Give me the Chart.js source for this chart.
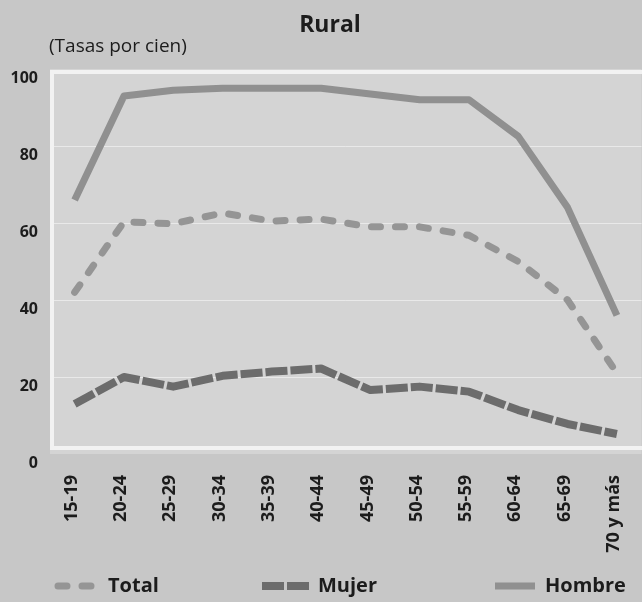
<!DOCTYPE html>
<html><head><meta charset="utf-8">
<script src="https://cdn.jsdelivr.net/npm/chart.js@4/dist/chart.umd.min.js"></script>
<style>
html,body{margin:0;padding:0;overflow:hidden;background:#c6c6c6;width:642px;height:602px}
canvas{display:block}
</style></head>
<body><canvas id="c" width="660" height="602"></canvas>
<script>
const chartTitle = 'Rural';
const chartSubtitle = '(Tasas por cien)';
const categories = ['15-19','20-24','25-29','30-34','35-39','40-44','45-49','50-54','55-59','60-64','65-69','70 y más'];
const seriesNames = ['Total','Mujer','Hombre'];
const totalValues  = [42, 60.3, 59.8, 62.6, 60.5, 61, 59, 59, 56.8, 50, 40, 21];
const mujerValues  = [13, 20, 17.5, 20.3, 21.4, 22.2, 16.6, 17.5, 16.2, 11.4, 7.8, 5.2];
const hombreValues = [66, 93, 94.5, 95, 95, 95, 93.5, 92, 92, 82.5, 64, 36];
const yMin = 0, yMax = 100, yStep = 20;

const FONT = '"Open Sans", Lato, sans-serif';
const TXT = '#1c1c1c';
const COL_TOTAL = '#959595';
const COL_MUJER = '#6c6c6c';
const COL_HOMBRE = '#909090';

const decor = {
  id: 'decor',
  beforeDraw(chart) {
    const {ctx, chartArea: a} = chart;
    ctx.save();
    ctx.fillStyle = '#c7c7c7';
    ctx.fillRect(0, 0, chart.width, chart.height);
    ctx.fillStyle = '#d4d4d4';
    ctx.fillRect(a.left, a.top, a.right - a.left, a.bottom - a.top);
    ctx.restore();
  },
  beforeDatasetsDraw(chart) {
    const {ctx, chartArea: a} = chart;
    ctx.save();
    ctx.strokeStyle = '#f2f2f2';
    ctx.lineWidth = 4;
    ctx.strokeRect(a.left + 2, a.top + 3, a.right - a.left + 20, a.bottom - a.top - 9);
    ctx.restore();
  },
  afterDraw(chart) {
    const {ctx} = chart;
    ctx.save();
    ctx.fillStyle = TXT;
    ctx.textBaseline = 'middle';
    ctx.textAlign = 'center';
    ctx.font = 'bold 23px ' + FONT;
    ctx.fillText(chartTitle, 330, 25);
    ctx.textAlign = 'left';
    ctx.font = '19px ' + FONT;
    ctx.fillText(chartSubtitle, 49, 47);
    // legend
    const ly = 586;
    const samples = [[58, 34], [262, 48], [495, 40]];
    const textX = [108, 318, 545];
    chart.data.datasets.forEach((ds, i) => {
      const [x, len] = samples[i];
      ctx.save();
      ctx.strokeStyle = ds.borderColor;
      ctx.lineWidth = ds.borderWidth;
      ctx.lineCap = ds.borderCapStyle || 'butt';
      ctx.setLineDash(ds.borderDash || []);
      ctx.beginPath();
      ctx.moveTo(x, ly);
      ctx.lineTo(x + len, ly);
      ctx.stroke();
      ctx.restore();
      ctx.font = 'bold 20px ' + FONT;
      ctx.fillStyle = TXT;
      ctx.fillText(ds.label, textX[i], ly);
    });
    ctx.restore();
  }
};

new Chart(document.getElementById('c'), {
  type: 'line',
  data: {
    labels: categories,
    datasets: [
      { label: seriesNames[0], data: totalValues, borderColor: COL_TOTAL, borderWidth: 7,
        borderDash: [9, 15], borderCapStyle: 'round', borderJoinStyle: 'round', order: 2 },
      { label: seriesNames[1], data: mujerValues, borderColor: COL_MUJER, borderWidth: 8,
        borderDash: [22, 3], borderCapStyle: 'butt', borderJoinStyle: 'round', order: 1 },
      { label: seriesNames[2], data: hombreValues, borderColor: COL_HOMBRE, borderWidth: 7,
        borderCapStyle: 'butt', borderJoinStyle: 'round', order: 3 }
    ]
  },
  options: {
    responsive: false,
    animation: false,
    events: [],
    layout: { padding: { top: 69, right: 12, left: 0, bottom: 0 } },
    elements: { point: { radius: 0 }, line: { tension: 0, fill: false } },
    plugins: { legend: { display: false }, title: { display: false }, tooltip: { enabled: false } },
    scales: {
      x: {
        offset: true,
        grid: { display: false, drawTicks: false },
        border: { display: false },
        ticks: { autoSkip: false, maxRotation: 90, minRotation: 90, padding: 21, labelOffset: -3,
                 color: TXT, font: { family: FONT, weight: 'bold', size: 18 } },
        afterFit(s) { s.height = 148; }
      },
      y: {
        min: yMin, max: yMax,
        grid: { drawTicks: false, lineWidth: 1,
                color: c => (c.tick && (c.tick.value === yMin || c.tick.value === yMax)) ? 'rgba(0,0,0,0)' : 'rgba(240,240,240,0.75)' },
        border: { display: false },
        ticks: { stepSize: yStep, padding: 12, labelOffset: 9, color: TXT,
                 font: { family: FONT, weight: 'bold', size: 16 } },
        afterFit(s) { s.width = 50; }
      }
    }
  },
  plugins: [decor]
});
</script>
</body></html>
